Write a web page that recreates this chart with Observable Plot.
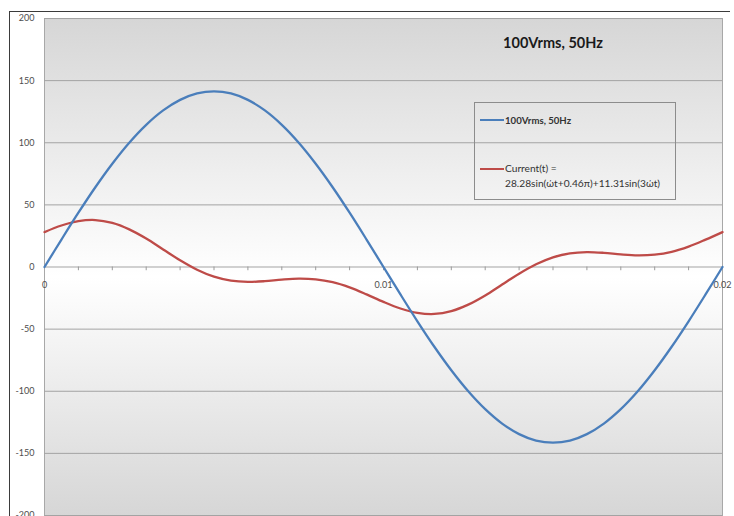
<!DOCTYPE html>
<html><head><meta charset="utf-8">
<script src="https://cdn.jsdelivr.net/npm/d3@7"></script>
<script src="https://cdn.jsdelivr.net/npm/@observablehq/plot@0.6"></script>
<style>
body{margin:0;background:#fff;}
#wrap{position:relative;width:734px;height:516px;overflow:hidden;font-family:Lato,"Open Sans",sans-serif;background:#fff;}
#border{position:absolute;left:9px;top:11px;width:720px;height:520px;border-top:1.5px solid #3b3b3b;border-left:1.5px solid #3b3b3b;}
#chart{position:absolute;left:0;top:0;}
#legend{position:absolute;left:474px;top:102px;width:202px;height:98px;border:1px solid #8c8c8c;box-sizing:border-box;color:#333;}
.sw{position:absolute;left:5px;width:24px;height:0;border-top:2.5px solid;}
.lt{position:absolute;left:30px;white-space:nowrap;}
</style></head>
<body>
<div id="wrap">
  <div id="border"></div>
  <div id="chart"></div>
  <div id="legend"></div>
</div>
<script>
const times = [0,0.0005,0.001,0.0015,0.002,0.0025,0.003,0.0035,0.004,0.0045,0.005,0.0055,0.006,0.0065,0.007,0.0075,0.008,0.0085,0.009,0.0095,0.01,0.0105,0.011,0.0115,0.012,0.0125,0.013,0.0135,0.014,0.0145,0.015,0.0155,0.016,0.0165,0.017,0.0175,0.018,0.0185,0.019,0.0195,0.02];
const voltage = [0,22.1,43.7,64.2,83.1,100,114.4,126,134.5,139.7,141.4,139.7,134.5,126,114.4,100,83.1,64.2,43.7,22.1,0,-22.1,-43.7,-64.2,-83.1,-100,-114.4,-126,-134.5,-139.7,-141.4,-139.7,-134.5,-126,-114.4,-100,-83.1,-64.2,-43.7,-22.1,0];
const current = [28.1,33.4,36.9,37.8,35.5,30.3,22.9,14.1,5.4,-2.2,-7.8,-11,-12,-11.4,-10.1,-9.3,-9.9,-12.2,-16.4,-22,-28.1,-33.4,-36.9,-37.8,-35.5,-30.3,-22.9,-14.1,-5.4,2.2,7.8,11,12,11.4,10.1,9.3,9.9,12.2,16.4,22,28.1];
const seriesNames = ["100Vrms, 50Hz", "Current(t) =\n28.28sin(ώt+0.46π)+11.31sin(3ώt)"];
const seriesColors = ["#4a7ebb", "#be4b48"];
const yTicks = [-200,-150,-100,-50,0,50,100,150,200];
const xMinorTicks = [0.001,0.002,0.003,0.004,0.005,0.006,0.007,0.008,0.009,0.01,0.011,0.012,0.013,0.014,0.015,0.016,0.017,0.018,0.019];
const xLabels = [0, 0.01, 0.02];
const chartTitle = "100Vrms, 50Hz";

const vData = times.map((t, i) => ({t, v: voltage[i]}));
const cData = times.map((t, i) => ({t, v: current[i]}));

const plot = Plot.plot({
  width: 734, height: 516,
  marginLeft: 44, marginRight: 12, marginTop: 18, marginBottom: 1,
  style: {fontFamily: "Lato, 'Open Sans', sans-serif", background: "transparent", overflow: "visible"},
  x: {domain: [0, 0.02], axis: null},
  y: {domain: [-200, 200], axis: null},
  marks: [
    Plot.frame({fill: "url(#bgGrad)", stroke: "#a8a8a8"}),
    Plot.ruleY(yTicks, {stroke: "#a3a3a3", strokeWidth: 1}),
    Plot.ruleX(xMinorTicks, {y1: 0, y2: -3, stroke: "#9a9a9a"}),
    Plot.axisY(yTicks, {tickSize: 0, tickPadding: 10, fontSize: 9, color: "#4d4d4d", label: null, tickFormat: d => String(d)}),
    Plot.text(xLabels, {x: d => d, y: 0, dy: 18, text: d => String(d), fontSize: 9, fill: "#4d4d4d"}),
    Plot.line(cData, {x: "t", y: "v", stroke: seriesColors[1], strokeWidth: 2.3, curve: "catmull-rom"}),
    Plot.line(vData, {x: "t", y: "v", stroke: seriesColors[0], strokeWidth: 2.3, curve: "catmull-rom"}),
    Plot.text([chartTitle], {x: 0.015, y: 180, text: d => d, fontSize: 14.5, fontWeight: "bold", fill: "#1a1a1a"})
  ]
});

const defs = d3.select(plot).insert("defs", ":first-child");
const g = defs.append("linearGradient").attr("id", "bgGrad").attr("x1", 0).attr("y1", 0).attr("x2", 0).attr("y2", 1);
g.append("stop").attr("offset", "0%").attr("stop-color", "#d6d6d6");
g.append("stop").attr("offset", "52%").attr("stop-color", "#ffffff");
g.append("stop").attr("offset", "100%").attr("stop-color", "#d6d6d6");
document.getElementById("chart").appendChild(plot);

const legend = document.getElementById("legend");
const rows = [{top: 16, textTop: 10, bold: true, size: 9.6}, {top: 65, textTop: 58, bold: false, size: 10.2}];
seriesNames.forEach((name, i) => {
  const sw = document.createElement("div");
  sw.className = "sw";
  sw.style.top = rows[i].top + "px";
  sw.style.borderTopColor = seriesColors[i];
  legend.appendChild(sw);
  const tx = document.createElement("div");
  tx.className = "lt";
  tx.style.top = rows[i].textTop + "px";
  tx.style.fontWeight = rows[i].bold ? "bold" : "normal";
  tx.style.fontSize = rows[i].size + "px";
  tx.style.lineHeight = "15px";
  tx.innerHTML = name.split("\n").join("<br>");
  legend.appendChild(tx);
});
</script>
</body></html>
